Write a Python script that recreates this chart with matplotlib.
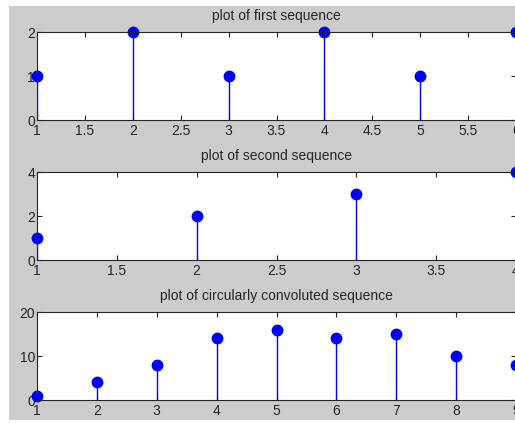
import numpy as np
import matplotlib.pyplot as plt
from matplotlib.patches import Rectangle
from matplotlib.ticker import FormatStrFormatter

# dane
n1 = [1, 2, 3, 4, 5, 6]
x1 = [1, 2, 1, 2, 1, 2]
n2 = [1, 2, 3, 4]
x2 = [1, 2, 3, 4]
n3 = [1, 2, 3, 4, 5, 6, 7, 8, 9]
y3 = [1, 4, 8, 14, 16, 14, 15, 10, 8]

titles = ['plot of first sequence', 'plot of second sequence',
          'plot of circularly convoluted sequence']
ylims = [(0, 2), (0, 4), (0, 20)]
yticks = [[0, 1, 2], [0, 2, 4], [0, 10, 20]]
xticks = [np.arange(1, 6.01, 0.5), np.arange(1, 4.01, 0.5), np.arange(1, 10)]

plt.rcParams['font.family'] = ['Liberation Sans', 'DejaVu Sans']

fig = plt.figure(figsize=(5.15, 4.23), dpi=100, facecolor='white')
# szare tlo jak w oknie MATLABa
fig.patches.append(Rectangle((9 / 515, 3 / 423), 1, 414 / 423,
                             transform=fig.transFigure, facecolor='#cccccc',
                             edgecolor='none', zorder=-1))

left = 37 / 515
width = 479 / 515
bottoms = [303 / 423, 163 / 423, 23 / 423]
height = 88 / 423

data = [(n1, x1), (n2, x2), (n3, y3)]
for i, (n, v) in enumerate(data):
    ax = fig.add_axes([left, bottoms[i], width, height])
    ax.set_facecolor('white')
    markers, stems, base = ax.stem(n, v, linefmt='b-', markerfmt='bo', basefmt='k-')
    markers.set_markersize(7.5)
    markers.set_clip_on(False)
    stems.set_linewidth(1.0)
    stems.set_color('#0000ff')
    base.set_visible(False)
    ax.set_xlim(n[0], n[-1])
    ax.set_ylim(*ylims[i])
    ax.set_xticks(xticks[i])
    ax.set_yticks(yticks[i])
    ax.xaxis.set_major_formatter(FormatStrFormatter('%g'))
    ax.tick_params(direction='in', length=3.5, width=0.8, colors='#262626',
                   labelsize=10, top=True, right=True)
    ax.tick_params(axis='y', pad=1.5)
    ax.tick_params(axis='x', pad=3)
    for s in ax.spines.values():
        s.set_color('#262626')
        s.set_linewidth(0.8)
    ax.set_title(titles[i], fontsize=10, color='#262626', pad=8.5)

plt.savefig('out.png', dpi=100, facecolor=fig.get_facecolor())
